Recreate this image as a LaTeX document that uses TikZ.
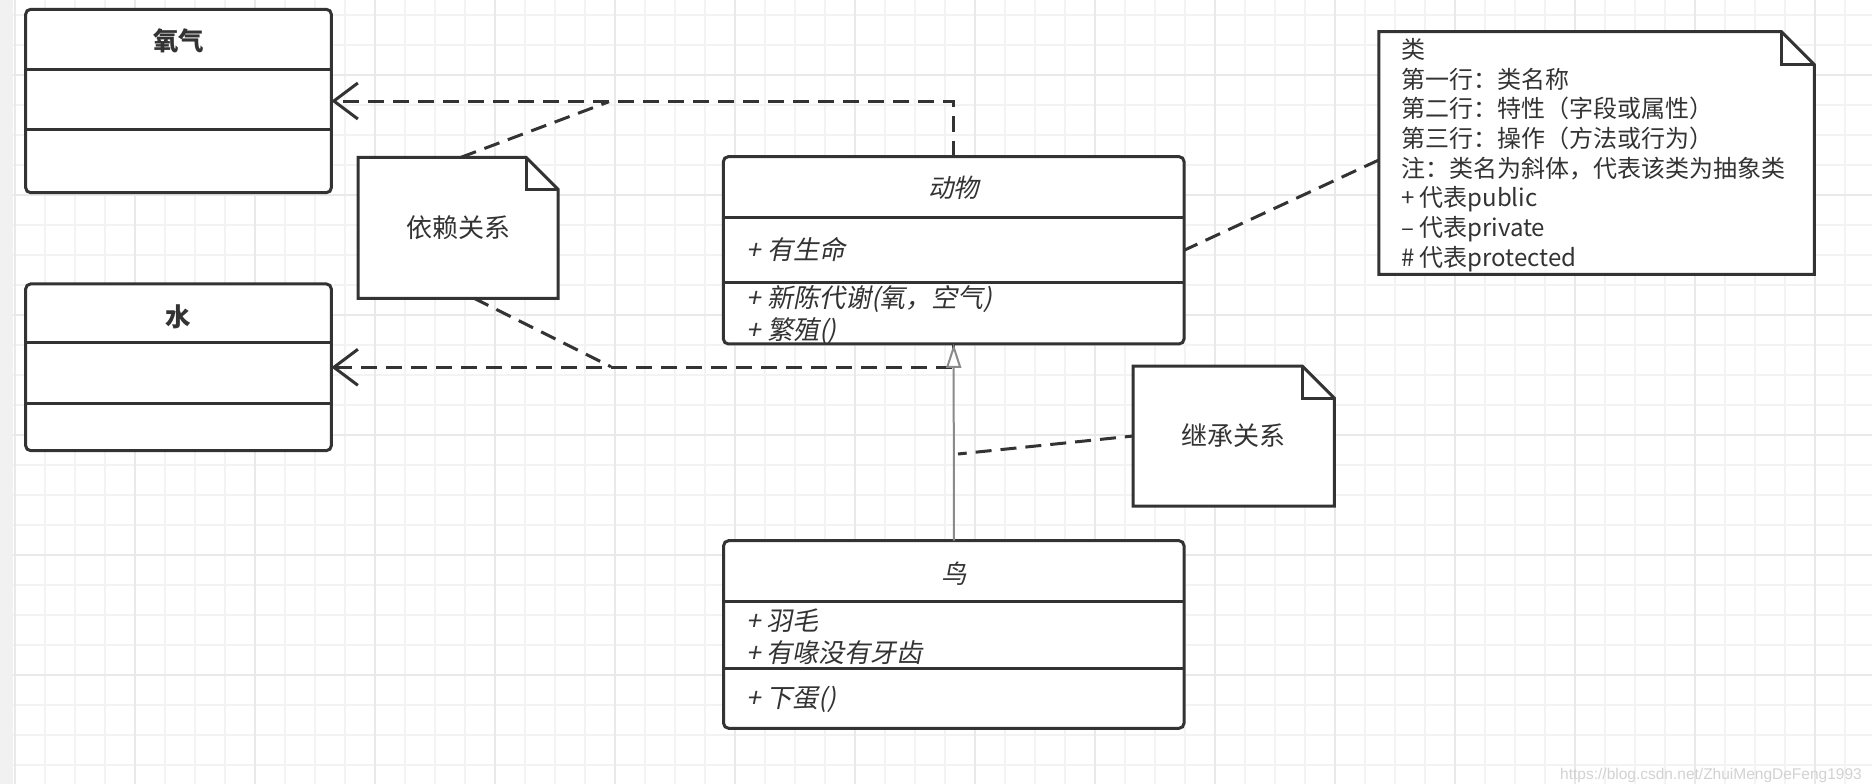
\documentclass[tikz,border=0pt]{standalone}
\usepackage{fontspec}
\setmainfont{Noto Sans CJK SC}[ItalicFont={Noto Sans CJK SC}, ItalicFeatures={FakeSlant=0.2}]
\newfontfamily\wmfont{Liberation Sans}
\usetikzlibrary{arrows.meta}
\pgfdeclarelayer{bg}
\pgfsetlayers{bg,main}
\definecolor{ink}{HTML}{333333}
\definecolor{gridminor}{HTML}{F3F3F3}
\definecolor{gridmajor}{HTML}{E9E9E9}
\definecolor{stripgray}{HTML}{F1F1F1}
\definecolor{inhgray}{HTML}{8A8A8A}
\definecolor{wmgray}{HTML}{D2D2D2}
\newcommand\drawnote[2]{%
  \begin{pgfonlayer}{bg}
  \draw[noteline, fill=white] (#1.north west) -- ([xshift=-#2]#1.north east) -- ([yshift=-#2]#1.north east) -- (#1.south east) -- (#1.south west) -- cycle;
  \draw[noteline] ([xshift=-#2]#1.north east) -- ([xshift=-#2,yshift=-#2]#1.north east) -- ([yshift=-#2]#1.north east);
  \end{pgfonlayer}}
\begin{document}
\begin{tikzpicture}[x=1pt,y=-1pt,
  cls/.style={draw=ink, line width=3pt, rounded corners=5pt, fill=white, inner sep=0pt, outer sep=0pt},
  divider/.style={draw=ink, line width=3pt},
  ctitle/.style={font=\fontsize{25.5}{30}\selectfont, text=ink, inner sep=0pt},
  member/.style={font=\fontsize{26}{32.2}\selectfont\itshape, text=ink, align=left, anchor=west, inner sep=0pt},
  notebox/.style={inner sep=0pt, outer sep=0pt, font=\fontsize{26}{30}\selectfont, text=ink},
  noteline/.style={draw=ink, line width=3pt, line join=miter},
  dep/.style={draw=ink, line width=3pt, dash pattern=on 16pt off 9pt, -{Straight Barb[length=24pt, width=36pt]}},
  link/.style={draw=ink, line width=3pt, dash pattern=on 16pt off 9pt},
  inh/.style={draw=inhgray, line width=2pt, -{Triangle[length=24pt, width=15pt, fill=white]}},
  gmin/.style={draw=gridminor, line width=1.5pt},
  gmaj/.style={draw=gridmajor, line width=1.5pt},
]
\useasboundingbox (0,0) rectangle (1872,784);
% background grid
\begin{pgfonlayer}{bg}
\fill[white] (0,0) rectangle (1872,784);
\foreach \x in {15,45,...,1845} \draw[gmin] (\x,0) -- (\x,784);
\foreach \y in {15,45,...,765} \draw[gmin] (13,\y) -- (1872,\y);
\foreach \x in {15,135,...,1815} \draw[gmaj] (\x,0) -- (\x,784);
\foreach \y in {75,195,...,735} \draw[gmaj] (13,\y) -- (1872,\y);
\fill[stripgray] (0,0) rectangle (13,784);
\end{pgfonlayer}

% class boxes
\node[cls, minimum width=305.7pt, minimum height=183.4pt] (oxygen) at (178.5,101) {};
\draw[divider] ([yshift=-60.7pt]oxygen.north west) -- ([yshift=-60.7pt]oxygen.north east);
\draw[divider] ([yshift=-120pt]oxygen.north west) -- ([yshift=-120pt]oxygen.north east);
\node[ctitle, font=\fontsize{25.5}{30}\selectfont\bfseries] (oxygenT) at (178.5,41) {氧气};

\node[cls, minimum width=305.7pt, minimum height=166.7pt] (water) at (178.5,367.3) {};
\draw[divider] ([yshift=-59pt]water.north west) -- ([yshift=-59pt]water.north east);
\draw[divider] ([yshift=-120pt]water.north west) -- ([yshift=-120pt]water.north east);
\node[ctitle, font=\fontsize{25.5}{30}\selectfont\bfseries] (waterT) at (178.5,316.5) {水};

\node[cls, minimum width=460.7pt, minimum height=187.3pt] (animal) at (953.7,250.3) {};
\draw[divider] ([yshift=-60.6pt]animal.north west) -- ([yshift=-60.6pt]animal.north east);
\draw[divider] ([yshift=-126pt]animal.north west) -- ([yshift=-126pt]animal.north east);
\node[ctitle, font=\fontsize{25.5}{30}\selectfont\itshape] (animalT) at (953.7,188) {动物};
\node[member] (animalA) at (746.7,249) {+ 有生命};
\node[member] (animalM) at (746.7,315) {+ 新陈代谢(氧，空气)\\+ 繁殖()};

\node[cls, minimum width=460.4pt, minimum height=187.6pt] (bird) at (953.8,634.5) {};
\draw[divider] ([yshift=-61pt]bird.north west) -- ([yshift=-61pt]bird.north east);
\draw[divider] ([yshift=-127.6pt]bird.north west) -- ([yshift=-127.6pt]bird.north east);
\node[ctitle, font=\fontsize{25.5}{30}\selectfont\itshape] (birdT) at (953.8,573.3) {鸟};
\node[member] (birdA) at (746.4,636.5) {+ 羽毛\\+ 有喙没有牙齿};
\node[member] (birdM) at (746.4,699.3) {+ 下蛋()};

% notes
\node[notebox, minimum width=200pt, minimum height=141pt] (dep) at (458,227.8) {依赖关系};
\drawnote{dep}{32pt}
\node[notebox, minimum width=201.1pt, minimum height=140pt] (inh) at (1233.75,436) {继承关系};
\drawnote{inh}{32pt}
\node[notebox, minimum width=435.6pt, minimum height=242.6pt] (cls) at (1596.6,153) {};
\drawnote{cls}{33pt}
\node[notebox, align=left, anchor=west, font=\fontsize{24}{29.7}\selectfont] (clsT) at (1401,155)
 {类\\第一行：类名称\\第二行：特性（字段或属性）\\第三行：操作（方法或行为）\\注：类名为斜体，代表该类为抽象类\\+ 代表public\\– 代表private\\\# 代表protected};

% connectors
\draw[dep] (animal.north) |- (oxygen.east);
\draw[dep] (animal.south) |- (water.east);
\draw[inh] (bird.north) -- (animal.south);

\coordinate (d1) at (609,101.7);
\coordinate (d2) at (611,366.7);
\coordinate (i1) at (958,454);
\draw[link] ([xshift=3pt]dep.north) -- (d1);
\draw[link] ([xshift=16pt]dep.south) -- (d2);
\draw[link] ([yshift=-7pt]cls.west) -- (animal.east);
\draw[link, dash phase=7.6pt] (inh.west) -- (i1);

% watermark
\node[anchor=east, inner sep=0pt, font=\wmfont\fontsize{15.5}{18}\selectfont, text=wmgray] (wm) at (1862,775) {https://blog.csdn.net/ZhuiMengDeFeng1993};
\end{tikzpicture}
\end{document}
